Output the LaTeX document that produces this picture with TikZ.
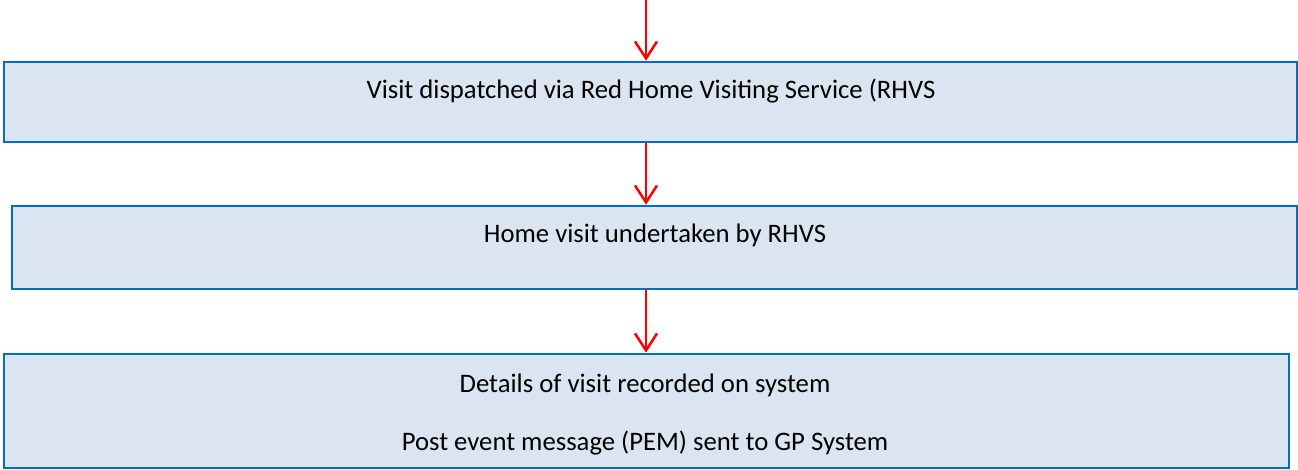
\documentclass[tikz,border=0pt]{standalone}
\usepackage{fontspec}
\setmainfont{Carlito}
\usetikzlibrary{arrows.meta}

\definecolor{boxfill}{RGB}{219,228,241}
\definecolor{boxline}{RGB}{0,112,192}
\definecolor{arrowred}{RGB}{255,0,0}

\begin{document}
\begin{tikzpicture}[x=1pt,y=-1pt,
  >={Straight Barb[length=17pt,width=22pt]},
  box/.style={draw=boxline,fill=boxfill,line width=2.5pt,rectangle,inner sep=0pt},
  step arrow/.style={->,arrowred,line width=2.5pt},
  txt/.style={anchor=base,font=\fontsize{26.7}{32}\selectfont}]

  \useasboundingbox (0,0) rectangle (1298,470);

  % top of the first arrow
  \coordinate (top) at (646,0);

  % Box 1
  \node[box,minimum width=1293pt,minimum height=80pt] (b1) at (650.5,102) {};
  \node[txt] (t1) at (651,99) {Visit dispatched via Red Home Visiting Service (RHVS};

  % Box 2
  \node[box,minimum width=1285pt,minimum height=83pt] (b2) at (654.5,247.5) {};
  \node[txt] (t2) at (655,243) {Home visit undertaken by RHVS};

  % Box 3
  \node[box,minimum width=1285pt,minimum height=114pt] (b3) at (646.5,411) {};
  \node[txt] (t3a) at (645,392) {Details of visit recorded on system};
  \node[txt] (t3b) at (645,450) {Post event message (PEM) sent to GP System};

  % arrows down
  \draw[step arrow] (top) -- (b1.north -| top);
  \draw[step arrow] (b1.south -| top) -- (b2.north -| top);
  \draw[step arrow] (b2.south -| top) -- (b3.north -| top);

\end{tikzpicture}
\end{document}
